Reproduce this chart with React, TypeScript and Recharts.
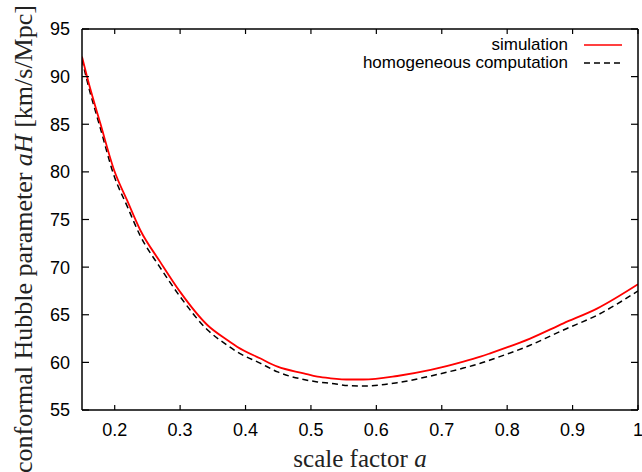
import { LineChart, Line, XAxis, YAxis, Legend } from "recharts"

// scale factor a and conformal Hubble parameter aH [km/s/Mpc]
const scaleFactor = [
  0.15, 0.158, 0.178, 0.199, 0.219, 0.239, 0.27, 0.3, 0.342, 0.372, 0.387, 0.423, 0.449, 0.489,
  0.51, 0.53, 0.56, 0.58, 0.632, 0.683, 0.733, 0.759, 0.774, 0.835, 0.886, 0.938, 1.0,
]
const simulation = [
  92.1, 89.9, 85.1, 80.2, 77.0, 73.9, 70.5, 67.4, 63.9, 62.35, 61.65, 60.4, 59.55, 58.85,
  58.5, 58.33, 58.2, 58.2, 58.57, 59.2, 60.07, 60.6, 60.95, 62.5, 64.1, 65.67, 68.2,
]
const homogeneous = [
  91.8, 89.5, 84.6, 79.6, 76.4, 73.3, 69.9, 66.9, 63.4, 61.8, 61.1, 59.9, 59.0, 58.2,
  57.95, 57.8, 57.55, 57.52, 57.87, 58.57, 59.4, 59.9, 60.25, 61.8, 63.4, 64.97, 67.5,
]

const xTicks = [0.2, 0.3, 0.4, 0.5, 0.6, 0.7, 0.8, 0.9, 1.0]
const yTicks = [55, 60, 65, 70, 75, 80, 85, 90, 95]

const seriesNames = ["simulation", "homogeneous computation"]

const data = scaleFactor.map((a, i) => ({
  a,
  sim: simulation[i],
  hom: homogeneous[i],
}))

const sans = "'Liberation Sans', Arial, sans-serif"
const serif = "'Liberation Serif', 'Times New Roman', serif"
const axisStroke = { stroke: "#000", strokeWidth: 1.5 }

const X_GAP = 13
const Y_GAP = 12
const X_TICK = 5
const Y_TICK = 7

// gnuplot style: ticks point into the plot, labels sit outside
function BottomTick({ x, y, payload }: any) {
  const v = payload.value
  return (
    <g>
      <line x1={x} x2={x} y1={y - X_GAP} y2={y - X_GAP - X_TICK} stroke="#000" strokeWidth={1.2} />
      <text x={x} y={y} dy="0.72em" textAnchor="middle" fontFamily={sans} fontSize={18} fill="#000">
        {v === 1 ? "1" : v.toFixed(1)}
      </text>
    </g>
  )
}

function LeftTick({ x, y, payload }: any) {
  return (
    <g>
      <line x1={x + Y_GAP} x2={x + Y_GAP + Y_TICK} y1={y} y2={y} stroke="#000" strokeWidth={1.2} />
      <text x={x} y={y} dy="0.36em" textAnchor="end" fontFamily={sans} fontSize={18} fill="#000">
        {payload.value}
      </text>
    </g>
  )
}

function TopTick({ x, y }: any) {
  return <line x1={x} x2={x} y1={y} y2={y + X_TICK} stroke="#000" strokeWidth={1.2} />
}

function RightTick({ x, y }: any) {
  return <line x1={x} x2={x - Y_TICK} y1={y} y2={y} stroke="#000" strokeWidth={1.2} />
}

function XTitle({ viewBox }: any) {
  const { x, y, width } = viewBox
  return (
    <text x={x + width / 2} y={y + 57} textAnchor="middle" fontFamily={serif} fontSize={25} fill="#222">
      scale factor <tspan fontStyle="italic">a</tspan>
    </text>
  )
}

function YTitle() {
  const cx = 32
  const cy = 239
  return (
    <text
      x={cx}
      y={cy}
      transform={`rotate(-90 ${cx} ${cy})`}
      textAnchor="middle"
      fontFamily={serif}
      fontSize={26}
      fill="#222"
    >
      conformal Hubble parameter <tspan fontStyle="italic">aH</tspan> [km/s/Mpc]
    </text>
  )
}

function LegendBox() {
  const rows = [
    { name: seriesNames[0], color: "#ff0000", dash: undefined },
    { name: seriesNames[1], color: "#000", dash: "6 4" },
  ]
  return (
    <div style={{ fontFamily: sans, fontSize: 17, color: "#000" }}>
      {rows.map((r) => (
        <div key={r.name} style={{ display: "flex", justifyContent: "flex-end", alignItems: "center", height: 18 }}>
          <span style={{ lineHeight: "18px" }}>{r.name}</span>
          <svg width={54} height={18} style={{ display: "block" }}>
            <line x1={16} x2={54} y1={9} y2={9} stroke={r.color} strokeWidth={1.5} strokeDasharray={r.dash} />
          </svg>
        </div>
      ))}
    </div>
  )
}

export default function App() {
  return (
    <div style={{ position: "absolute", left: 0, top: 0, width: 642, height: 472, background: "#fff" }}>
      <LineChart width={642} height={472} data={data} margin={{ top: 28, right: 3, bottom: 0, left: 0 }}>
        <XAxis
          dataKey="a"
          type="number"
          domain={[0.15, 1]}
          ticks={xTicks}
          allowDataOverflow
          height={62}
          tickSize={0}
          tickMargin={X_GAP}
          axisLine={axisStroke}
          tickLine={false}
          tick={<BottomTick />}
          label={<XTitle />}
        />
        <XAxis
          xAxisId="top"
          orientation="top"
          dataKey="a"
          type="number"
          domain={[0.15, 1]}
          ticks={xTicks}
          allowDataOverflow
          height={1}
          tickSize={0}
          tickMargin={0}
          axisLine={axisStroke}
          tickLine={false}
          tick={<TopTick />}
        />
        <YAxis
          type="number"
          domain={[55, 95]}
          ticks={yTicks}
          allowDataOverflow
          width={82}
          tickSize={0}
          tickMargin={Y_GAP}
          axisLine={axisStroke}
          tickLine={false}
          tick={<LeftTick />}
          label={<YTitle />}
        />
        <YAxis
          yAxisId="right"
          orientation="right"
          type="number"
          domain={[55, 95]}
          ticks={yTicks}
          allowDataOverflow
          width={1}
          tickSize={0}
          tickMargin={0}
          axisLine={axisStroke}
          tickLine={false}
          tick={<RightTick />}
        />
        <Legend
          layout="horizontal"
          verticalAlign="middle"
          align="center"
          content={<LegendBox />}
          wrapperStyle={{ top: 36, right: 20, left: "auto", width: 300 }}
        />
        <Line
          dataKey="hom"
          name={seriesNames[1]}
          type="monotone"
          stroke="#000"
          strokeWidth={1.5}
          strokeDasharray="6 4"
          dot={false}
          isAnimationActive={false}
        />
        <Line
          dataKey="sim"
          name={seriesNames[0]}
          type="monotone"
          stroke="#ff0000"
          strokeWidth={1.8}
          dot={false}
          isAnimationActive={false}
        />
      </LineChart>
    </div>
  )
}
